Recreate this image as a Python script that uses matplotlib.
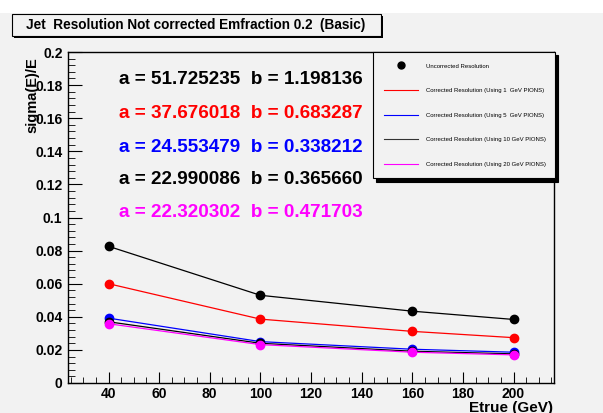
import matplotlib
matplotlib.use('Agg')
import matplotlib.pyplot as plt
from matplotlib.patches import Rectangle
from matplotlib.lines import Line2D
from matplotlib.ticker import MultipleLocator, FormatStrFormatter

plt.rcParams['font.family'] = ['Liberation Sans', 'DejaVu Sans']

# data
etrue = [40, 100, 160, 200]
uncorrected = [0.0826, 0.0530, 0.0434, 0.0384]
corr_1gev = [0.0600, 0.0386, 0.0312, 0.0274]
corr_5gev = [0.0392, 0.0250, 0.0204, 0.0186]
corr_10gev = [0.0370, 0.0240, 0.0192, 0.0176]
corr_20gev = [0.0358, 0.0232, 0.0186, 0.0170]

fit_lines = ["a = 51.725235  b = 1.198136",
             "a = 37.676018  b = 0.683287",
             "a = 24.553479  b = 0.338212",
             "a = 22.990086  b = 0.365660",
             "a = 22.320302  b = 0.471703"]
fit_colors = ['black', 'red', 'blue', 'black', 'magenta']

legend_labels = ["Uncorrected Resolution",
                 "Corrected Resolution (Using 1  GeV PIONS)",
                 "Corrected Resolution (Using 5  GeV PIONS)",
                 "Corrected Resolution (Using 10 GeV PIONS)",
                 "Corrected Resolution (Using 20 GeV PIONS)"]

W, H = 603, 413
bg = '#f2f2f2'
fig = plt.figure(figsize=(6.03, 4.13), dpi=100, facecolor=bg)
fig.patches.append(Rectangle((0, 1 - 13 / H), 1, 13 / H, transform=fig.transFigure,
                             facecolor='white', edgecolor='none', zorder=0))

ax = fig.add_axes([68 / W, 30 / H, 486 / W, 331 / H], facecolor=bg)

ax.plot(etrue, uncorrected, color='black', lw=0.9, marker='o', ms=6)
ax.plot(etrue, corr_1gev, color='red', lw=0.9, marker='o', ms=6)
ax.plot(etrue, corr_5gev, color='blue', lw=0.9, marker='o', ms=6)
ax.plot(etrue, corr_10gev, color='black', lw=0.9, marker='o', ms=6)
ax.plot(etrue, corr_20gev, color='magenta', lw=0.9, marker='o', ms=6)

ax.set_xlim(24, 216)
ax.set_ylim(0, 0.2)
ax.xaxis.set_major_locator(MultipleLocator(20))
ax.xaxis.set_minor_locator(MultipleLocator(5))
ax.yaxis.set_major_locator(MultipleLocator(0.02))
ax.yaxis.set_minor_locator(MultipleLocator(0.004))
ax.yaxis.set_major_formatter(FormatStrFormatter('%g'))
ax.tick_params(axis='both', which='both', direction='in', labelsize=10)
ax.tick_params(axis='x', which='major', length=8, pad=3)
ax.tick_params(axis='x', which='minor', length=4)
ax.tick_params(axis='y', which='major', length=10, pad=4)
ax.tick_params(axis='y', which='minor', length=5)
for lab in ax.get_xticklabels() + ax.get_yticklabels():
    lab.set_fontweight('bold')
for s in ax.spines.values():
    s.set_linewidth(1)

fig.text(25 / W, 1 - 57 / H, 'sigma(E)/E', rotation=90, ha='left', va='top',
         fontsize=10.5, fontweight='bold')
fig.text(553 / W, 1 - 401 / H, 'Etrue (GeV)', ha='right', va='top',
         fontsize=11, fontweight='bold')

baselines = [84, 118, 151.5, 184.5, 217.5]
for txt, c, yb in zip(fit_lines, fit_colors, baselines):
    fig.text(119 / W, 1 - yb / H, txt, color=c, ha='left', va='baseline',
             fontsize=13.6, fontweight='bold')

# title box with shadow
fig.patches.append(Rectangle((14 / W, 1 - 38 / H), 369 / W, 22 / H, transform=fig.transFigure,
                             facecolor='black', edgecolor='none', zorder=2))
fig.patches.append(Rectangle((12 / W, 1 - 36 / H), 369 / W, 22 / H, transform=fig.transFigure,
                             facecolor=bg, edgecolor='black', lw=0.8, zorder=3))
fig.text(196 / W, 1 - 25 / H, 'Jet  Resolution Not corrected Emfraction 0.2  (Basic)',
         ha='center', va='center', fontsize=9.8, fontweight='bold', zorder=4)

handles = [Line2D([], [], color='black', marker='o', ls='none', ms=5),
           Line2D([], [], color='red', lw=0.8),
           Line2D([], [], color='blue', lw=0.8),
           Line2D([], [], color='#333333', lw=0.8),
           Line2D([], [], color='magenta', lw=0.8)]
leg = ax.legend(handles, legend_labels, loc='upper left',
                bbox_to_anchor=(373 / W, 1 - 175 / H, 182 / W, 123 / H),
                bbox_transform=fig.transFigure, mode='expand', borderaxespad=0,
                fontsize=4.3, handlelength=5.6, handletextpad=1.3, labelspacing=3.25,
                borderpad=1.9, fancybox=False, framealpha=1, facecolor=bg,
                edgecolor='black', shadow={'color': 'black', 'alpha': 1, 'ox': 2.5, 'oy': -2.5})
leg.get_frame().set_linewidth(0.8)

fig.savefig('out.png', dpi=100, facecolor=bg)
